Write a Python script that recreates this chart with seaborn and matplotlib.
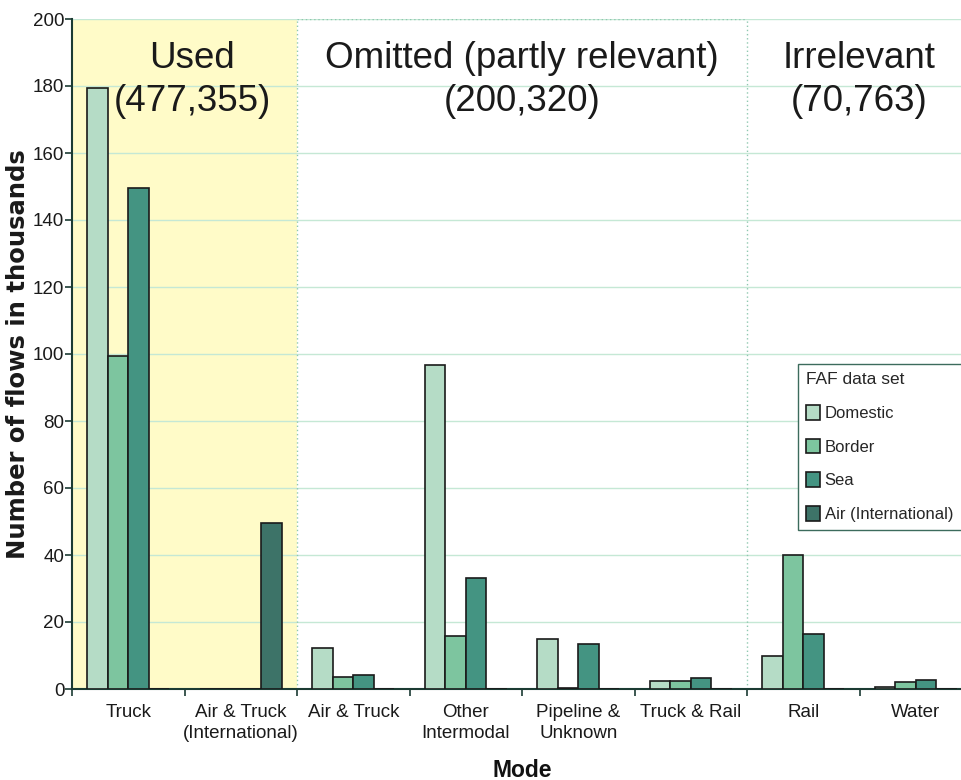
import numpy as np
import pandas as pd
import matplotlib
matplotlib.use("Agg")
import matplotlib.pyplot as plt
import seaborn as sns

sns.set_theme(style="white")
plt.rcParams['font.family'] = ['Liberation Sans', 'DejaVu Sans']

# Data (thousands of flows)
modes = ["Truck", "Air & Truck\n(International)", "Air & Truck", "Other\nIntermodal",
         "Pipeline &\nUnknown", "Truck & Rail", "Rail", "Water"]
datasets = ["Domestic", "Border", "Sea", "Air (International)"]
domestic = [179.3, 0, 12.2, 96.7, 14.9, 2.4, 9.9, 0.7]
border = [99.5, 0, 3.6, 15.8, 0.4, 2.4, 40.0, 2.1]
sea = [149.6, 0, 4.2, 33.1, 13.5, 3.2, 16.5, 2.8]
air_intl = [0, 49.6, 0, 0, 0, 0, 0, 0]

regions = ["Used\n(477,355)", "Omitted (partly relevant)\n(200,320)", "Irrelevant\n(70,763)"]
region_x = [0.57, 3.5, 6.5]

colors = ["#b5dcc6", "#7dc59f", "#449482", "#3d7368"]

df = pd.DataFrame({
    "Mode": modes * 4,
    "Dataset": np.repeat(datasets, len(modes)),
    "Flows": domestic + border + sea + air_intl,
})

fig = plt.figure(figsize=(9.61, 7.8), dpi=100)
ax = fig.add_axes([72 / 961, 1 - 689 / 780, 900 / 961, 670 / 780])

ax.axvspan(-0.5, 1.5, color="#fffbc8", zorder=0, lw=0)

sns.barplot(data=df, x="Mode", y="Flows", hue="Dataset", order=modes, hue_order=datasets,
            palette=colors, width=0.73, saturation=1, edgecolor="#1a1a1a", linewidth=1.2,
            ax=ax, zorder=3)

ax.set_xlim(-0.5, 7.5)
ax.set_ylim(0, 200)
ax.set_yticks(np.arange(0, 201, 20))
ax.yaxis.grid(True, color="#c5e8d5", lw=1)
ax.set_axisbelow(True)

# separators between regions
sep_kw = dict(color="#8fc8b0", ls=(0, (1, 2)), lw=1, zorder=1)
ax.plot([1.5, 1.5], [0, 200], **sep_kw)
ax.plot([5.5, 5.5], [0, 200], **sep_kw)
ax.plot([1.5, 5.5], [200, 200], **sep_kw)

for x, t in zip(region_x, regions):
    ax.text(x, 193.5, t, ha="center", va="top", fontsize=26.5, color="#1a1a1a",
            linespacing=1.3, zorder=4)

# ticks at category boundaries, labels at centres
ax.set_xticks(np.arange(-0.5, 8, 1))
ax.set_xticklabels([])
ax.set_xticks(range(len(modes)), minor=True)
ax.set_xticklabels(modes, minor=True, fontsize=13.5, color="#1a1a1a", linespacing=1.3)
ax.tick_params(axis="x", which="major", length=5, width=1.2, color="#1b3b33", direction="out", bottom=True)
ax.tick_params(axis="x", which="minor", length=0, pad=11)
ax.tick_params(axis="y", length=5, width=1.2, color="#1b3b33", direction="out", left=True,
               labelsize=13.5, labelcolor="#1a1a1a", pad=0.5)

for s in ["top", "right"]:
    ax.spines[s].set_visible(False)
for s in ["left", "bottom"]:
    ax.spines[s].set_color("#1b3b33")
    ax.spines[s].set_linewidth(1.5)

ax.set_ylabel("Number of flows in thousands", fontsize=17.5, fontweight="bold",
              family=["DejaVu Sans"], color="#1a1a1a", labelpad=2)
ax.set_xlabel("Mode", fontsize=16.5, fontweight="bold", color="#111111", labelpad=12)

handles, labels = ax.get_legend_handles_labels()
ax.get_legend().remove()
leg = ax.legend(handles, labels, title="FAF data set", loc="upper left",
                bbox_to_anchor=(798 / 961, 1 - 364 / 780), bbox_transform=fig.transFigure,
                fontsize=12, title_fontsize=12.5, alignment="left", frameon=True,
                fancybox=False, edgecolor="#3c6b5c", framealpha=1, borderpad=0.5,
                labelspacing=1.05, handlelength=0.8, handleheight=1.0, handletextpad=0.3,
                borderaxespad=0)
leg.get_frame().set_linewidth(1.0)

fig.savefig("out.png", dpi=100)
